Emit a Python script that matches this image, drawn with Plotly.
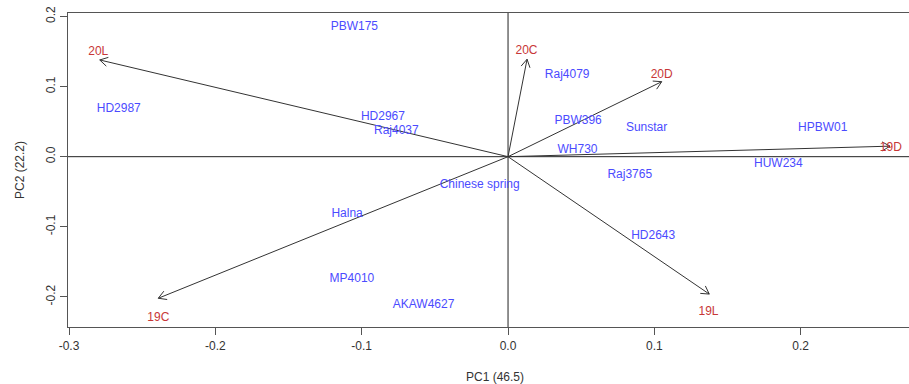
import math
import plotly.graph_objects as go

# Environment loadings (arrow tips) on PC1 / PC2
env_names = ["20L", "20C", "20D", "19D", "19L", "19C"]
env_pc1 = [-0.279, 0.013, 0.105, 0.261, 0.1375, -0.239]
env_pc2 = [0.138, 0.139, 0.107, 0.015, -0.196, -0.202]
# Label positions for the environment names
env_lab_pc1 = [-0.280, 0.0126, 0.105, 0.2616, 0.137, -0.239]
env_lab_pc2 = [0.149, 0.151, 0.116, 0.0123, -0.222, -0.2296]

# Genotype scores
geno_names = ["PBW175", "HD2987", "HD2967", "Raj4037", "Chinese spring", "Halna",
              "MP4010", "AKAW4627", "Raj4079", "PBW396", "Sunstar", "HPBW01",
              "WH730", "HUW234", "Raj3765", "HD2643"]
geno_pc1 = [-0.105, -0.266, -0.0855, -0.0763, -0.0194, -0.110,
            -0.1067, -0.0577, 0.0404, 0.0479, 0.0947, 0.215,
            0.0475, 0.1847, 0.0832, 0.0992]
geno_pc2 = [0.185, 0.0686, 0.057, 0.037, -0.041, -0.082,
            -0.174, -0.212, 0.117, 0.051, 0.041, 0.041,
            0.009, -0.0106, -0.0267, -0.113]

x_ticks = [-0.3, -0.2, -0.1, 0.0, 0.1, 0.2]
y_ticks = [-0.2, -0.1, 0.0, 0.1, 0.2]

FONT = "Liberation Sans, Arial, sans-serif"
BLUE = "#4B4BFF"
RED = "#C83737"
ARROW = "#333333"

W, H = 909, 384
MARGIN = dict(l=68, r=0, t=13, b=57)
X_RANGE = [-0.3007, 0.274]
Y_RANGE = [-0.243, 0.205]

# pixel scale of each axis, used to shape the arrow heads
px_x = (W - MARGIN["l"] - MARGIN["r"]) / (X_RANGE[1] - X_RANGE[0])
px_y = (H - MARGIN["t"] - MARGIN["b"]) / (Y_RANGE[1] - Y_RANGE[0])
HEAD_LEN = 9      # px
HEAD_ANG = math.radians(30)

fig = go.Figure()

# Arrow shafts and open V heads from the origin
ax, ay = [], []
for ex, ey in zip(env_pc1, env_pc2):
    ax += [0, ex, None]
    ay += [0, ey, None]
    ang = math.atan2(ey * px_y, ex * px_x)
    for s in (1, -1):
        a = ang + math.pi + s * HEAD_ANG
        hx = ex + HEAD_LEN * math.cos(a) / px_x
        hy = ey + HEAD_LEN * math.sin(a) / px_y
        ax += [hx, ex, None]
        ay += [hy, ey, None]

fig.add_trace(go.Scatter(
    x=ax, y=ay, mode="lines", line=dict(color=ARROW, width=1),
    hoverinfo="skip", showlegend=False))

fig.add_trace(go.Scatter(
    x=geno_pc1, y=geno_pc2, mode="text", text=geno_names,
    textposition="middle center",
    textfont=dict(family=FONT, size=12, color=BLUE),
    showlegend=False))

fig.add_trace(go.Scatter(
    x=env_lab_pc1, y=env_lab_pc2, mode="text", text=env_names,
    textposition="middle center",
    textfont=dict(family=FONT, size=12, color=RED),
    showlegend=False))

# Reference lines through the origin
fig.add_shape(type="line", xref="paper", yref="y", x0=0, x1=1, y0=0, y1=0,
              line=dict(color="#222222", width=1), layer="below")
fig.add_shape(type="line", xref="x", yref="paper", x0=0, x1=0, y0=0, y1=1,
              line=dict(color="#222222", width=1), layer="below")

axis_common = dict(
    showgrid=False, zeroline=False, showline=True, linecolor="#555555",
    linewidth=1.3, ticks="outside", ticklen=7, tickcolor="#555555",
    tickwidth=1, tickfont=dict(family=FONT, size=12, color="#333333"),
)

fig.update_layout(
    width=W, height=H,
    margin=MARGIN,
    plot_bgcolor="white", paper_bgcolor="white",
    xaxis=dict(range=X_RANGE, tickvals=x_ticks,
               ticktext=[f"{v:.1f}" for v in x_ticks], mirror=True,
               **axis_common),
    yaxis=dict(range=Y_RANGE, tickvals=y_ticks,
               ticktext=[f"{v:.1f}" for v in y_ticks], tickangle=-90,
               **axis_common),
    annotations=[
        dict(text="PC1 (46.5)", xref="paper", yref="paper", x=(495 - 68) / 841,
             y=-(377 - 327) / 314, showarrow=False, xanchor="center",
             yanchor="middle", font=dict(family=FONT, size=12, color="#333333")),
        dict(text="PC2 (22.2)", xref="paper", yref="paper", x=-(68 - 20) / 841,
             y=0.5, showarrow=False, textangle=-90, xanchor="center",
             yanchor="middle", font=dict(family=FONT, size=12, color="#333333")),
    ],
)

fig.write_html("out.html")
